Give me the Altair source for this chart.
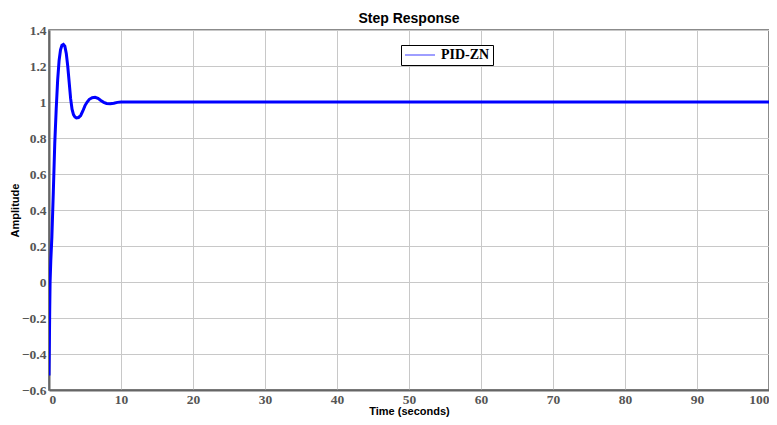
import altair as alt
import pandas as pd

# Step response samples (time in seconds, amplitude)
time_s = [0, 0.05, 0.1, 0.15, 0.25, 0.4, 0.6, 0.8, 1.0, 1.2, 1.4, 1.6, 1.8, 2.0,
          2.2, 2.4, 2.6, 2.8, 3.0, 3.2, 3.4, 3.6, 3.8, 4.1, 4.4, 4.7, 5.0, 5.3,
          5.6, 6.0, 6.4, 6.8, 7.2, 7.6, 8.0, 8.5, 9.0, 9.5, 10, 20, 30, 40, 50,
          60, 70, 80, 90, 100]
amplitude = [-0.52, -0.35, -0.15, 0.0, 0.12, 0.25, 0.5, 0.77, 0.96, 1.12, 1.23,
             1.29, 1.315, 1.32, 1.31, 1.27, 1.2, 1.11, 1.02, 0.96, 0.93, 0.917,
             0.912, 0.914, 0.925, 0.95, 0.98, 1.0, 1.015, 1.024, 1.026, 1.02,
             1.008, 0.998, 0.992, 0.99, 0.993, 0.998, 1.0, 1.0, 1.0, 1.0, 1.0,
             1.0, 1.0, 1.0, 1.0, 1.0]
series = ["PID-ZN"] * len(time_s)

x_ticks = [0, 10, 20, 30, 40, 50, 60, 70, 80, 90, 100]
y_ticks = [-0.6, -0.4, -0.2, 0, 0.2, 0.4, 0.6, 0.8, 1, 1.2, 1.4]

df = pd.DataFrame({"t": time_s, "y": amplitude, "s": series})

chart = alt.Chart(df).mark_line(strokeWidth=3, clip=True).encode(
    x=alt.X("t:Q", scale=alt.Scale(domain=[0, 100], nice=False),
            axis=alt.Axis(title="Time (seconds)", values=x_ticks, format="d")),
    y=alt.Y("y:Q", scale=alt.Scale(domain=[-0.6, 1.4], nice=False, zero=False),
            axis=alt.Axis(title="Amplitude", values=y_ticks, format="~g")),
    color=alt.Color("s:N", scale=alt.Scale(range=["#0000ff"]),
                    legend=alt.Legend(title=None, orient="none", legendX=352, legendY=15,
                                      symbolType="stroke", symbolStrokeWidth=1.5,
                                      symbolOpacity=0.5, symbolSize=900,
                                      clipHeight=14, labelOffset=5,
                                      labelFont="Liberation Serif", labelFontWeight="bold",
                                      labelFontSize=14, labelColor="#000",
                                      strokeColor="#000", fillColor="#fff",
                                      padding=3, cornerRadius=0)),
).properties(
    width=720, height=360,
    title=alt.TitleParams("Step Response", font="Liberation Sans", fontSize=14,
                          fontWeight="bold", color="#000", offset=0, dy=3),
    autosize=alt.AutoSizeParams(type="none"),
    padding={"left": 41, "top": 22, "right": 0, "bottom": 27},
).configure_view(
    stroke="#666", strokeWidth=1.5
).configure_axis(
    domainColor="#666", domainWidth=2,
    gridColor="#c8c8c8", gridWidth=1,
    ticks=False,
    labelFont="Liberation Serif", labelFontWeight="bold", labelFontSize=13.5,
    labelColor="#555", labelPadding=2,
    titleFont="Liberation Sans", titleFontWeight="bold", titleFontSize=11,
    titleColor="#000",
).configure_axisY(
    titlePadding=1, labelPadding=3
).configure_axisX(
    titlePadding=0
)

chart.save("out.html", embed_options={"renderer": "svg", "actions": False})
